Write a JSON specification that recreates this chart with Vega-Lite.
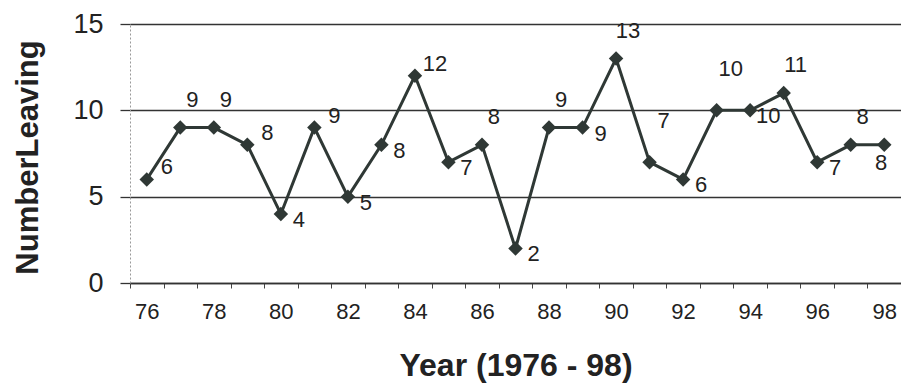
{
  "$schema": "https://vega.github.io/schema/vega-lite/v6.json",
  "width": 771,
  "height": 259,
  "autosize": {"type": "none"},
  "padding": {"left": 130, "top": 24, "right": 0, "bottom": 100},
  "background": "white",
  "config": {"view": {"stroke": null}, "font": "Liberation Sans"},
  "data": {
    "values": [
      {"year": 76, "leaving": 6},
      {"year": 77, "leaving": 9},
      {"year": 78, "leaving": 9},
      {"year": 79, "leaving": 8},
      {"year": 80, "leaving": 4},
      {"year": 81, "leaving": 9},
      {"year": 82, "leaving": 5},
      {"year": 83, "leaving": 8},
      {"year": 84, "leaving": 12},
      {"year": 85, "leaving": 7},
      {"year": 86, "leaving": 8},
      {"year": 87, "leaving": 2},
      {"year": 88, "leaving": 9},
      {"year": 89, "leaving": 9},
      {"year": 90, "leaving": 13},
      {"year": 91, "leaving": 7},
      {"year": 92, "leaving": 6},
      {"year": 93, "leaving": 10},
      {"year": 94, "leaving": 10},
      {"year": 95, "leaving": 11},
      {"year": 96, "leaving": 7},
      {"year": 97, "leaving": 8},
      {"year": 98, "leaving": 8}
    ]
  },
  "encoding": {
    "x": {
      "field": "year",
      "type": "ordinal",
      "scale": {"type": "band", "paddingInner": 0, "paddingOuter": 0},
      "axis": {
        "title": "Year (1976 - 98)",
        "tickBand": "extent",
        "labelAngle": 0,
        "labelExpr": "datum.value % 2 == 0 ? datum.label : ''",
        "labelOverlap": false,
        "labelFontSize": 22,
        "labelColor": "#222",
        "labelPadding": 13,
        "tickSize": 5,
        "tickColor": "#444",
        "domainColor": "#333",
        "domainWidth": 1.5,
        "grid": false,
        "titleFontSize": 32,
        "titleFontWeight": "bold",
        "titleColor": "#222",
        "titleX": 385.5,
        "titleY": 92,
        "titleBaseline": "alphabetic",
        "titleAlign": "center"
      }
    },
    "y": {
      "field": "leaving",
      "type": "quantitative",
      "scale": {"domain": [0, 15], "nice": false},
      "axis": {
        "title": "NumberLeaving",
        "values": [0, 5, 10, 15],
        "grid": true,
        "gridColor": "#333",
        "gridWidth": 1.3,
        "tickSize": 10,
        "tickColor": "#333",
        "tickWidth": 1.3,
        "domainColor": "#999",
        "domainDash": [2, 2],
        "labelFontSize": 27,
        "labelPadding": 17,
        "labelColor": "#222",
        "titleFontSize": 31,
        "titleFontWeight": "bold",
        "titleColor": "#222",
        "titleX": -93,
        "titleY": 133,
        "titleAngle": -90,
        "titleBaseline": "alphabetic",
        "titleAlign": "center"
      }
    }
  },
  "layer": [
    {"mark": {"type": "line", "color": "#2f3835", "strokeWidth": 3}},
    {"mark": {"type": "point", "shape": "diamond", "filled": true, "size": 210, "color": "#2f3835", "opacity": 1}},
    {
      "transform": [{"filter": {"field": "year", "oneOf": [77, 78, 86, 88, 90, 95, 97]}}],
      "mark": {"type": "text", "dx": 12, "dy": -28, "fontSize": 22, "color": "#222"},
      "encoding": {"text": {"field": "leaving"}}
    },
    {
      "transform": [{"filter": {"field": "year", "oneOf": [91, 93]}}],
      "mark": {"type": "text", "dx": 14, "dy": -41, "fontSize": 22, "color": "#222"},
      "encoding": {"text": {"field": "leaving"}}
    },
    {
      "transform": [{"filter": {"field": "year", "oneOf": [76, 79, 81, 84]}}],
      "mark": {"type": "text", "dx": 20, "dy": -12, "fontSize": 22, "color": "#222"},
      "encoding": {"text": {"field": "leaving"}}
    },
    {
      "transform": [{"filter": {"field": "year", "oneOf": [80, 82, 83, 85, 87, 89, 92, 94, 96]}}],
      "mark": {"type": "text", "dx": 18, "dy": 6, "fontSize": 22, "color": "#222"},
      "encoding": {"text": {"field": "leaving"}}
    },
    {
      "transform": [{"filter": {"field": "year", "oneOf": [98]}}],
      "mark": {"type": "text", "dx": -3, "dy": 18, "fontSize": 22, "color": "#222"},
      "encoding": {"text": {"field": "leaving"}}
    }
  ]
}
